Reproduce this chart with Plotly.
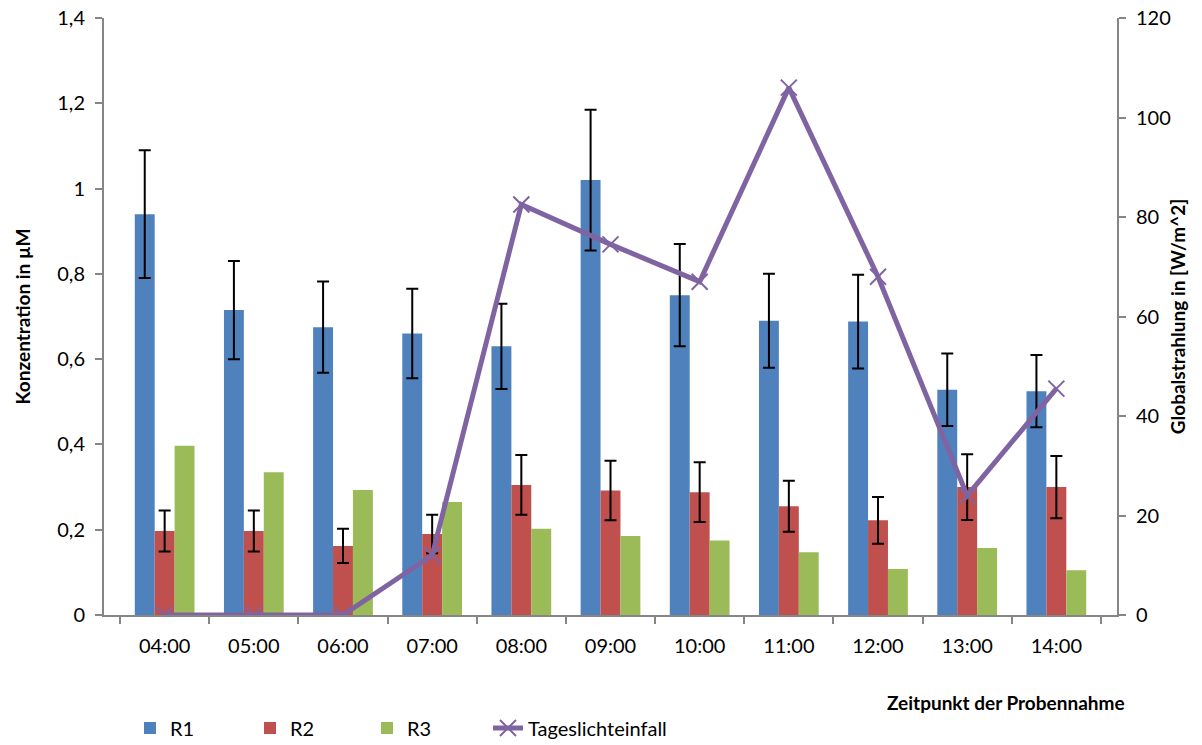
import plotly.graph_objects as go

categories = ["04:00", "05:00", "06:00", "07:00", "08:00", "09:00", "10:00", "11:00", "12:00", "13:00", "14:00"]
r1 = [0.94, 0.715, 0.675, 0.66, 0.63, 1.02, 0.75, 0.69, 0.688, 0.528, 0.525]
r1_err = [0.15, 0.115, 0.107, 0.105, 0.10, 0.165, 0.12, 0.11, 0.11, 0.085, 0.085]
r2 = [0.197, 0.197, 0.162, 0.19, 0.305, 0.292, 0.288, 0.255, 0.222, 0.30, 0.30]
r2_err = [0.048, 0.048, 0.04, 0.045, 0.07, 0.07, 0.07, 0.06, 0.055, 0.077, 0.073]
r3 = [0.397, 0.335, 0.293, 0.265, 0.202, 0.185, 0.175, 0.147, 0.108, 0.157, 0.105]
light = [0, 0, 0, 12, 82.5, 74.5, 67, 106, 68, 24, 45.5]

FONT = "Lato"
axis_col = "#868686"

err_style = dict(type="data", color="black", thickness=2, width=6)

fig = go.Figure()
fig.add_trace(go.Bar(name="R1", x=categories, y=r1, marker=dict(color="#4F81BD", line=dict(width=0)),
                     error_y=dict(array=r1_err, **err_style), legend="legend"))
fig.add_trace(go.Bar(name="R2", x=categories, y=r2, marker=dict(color="#C0504D", line=dict(width=0)),
                     error_y=dict(array=r2_err, **err_style), legend="legend2"))
fig.add_trace(go.Bar(name="R3", x=categories, y=r3, marker=dict(color="#9BBB59", line=dict(width=0)),
                     legend="legend3"))
fig.add_trace(go.Scatter(name="Tageslichteinfall", x=categories, y=light, yaxis="y2",
                         mode="lines+markers",
                         line=dict(color="#8064A2", width=5),
                         marker=dict(symbol="x-thin", size=16, line=dict(color="#8064A2", width=2)),
                         legend="legend4"))

W, H = 1202, 745

def leg(px):
    return dict(orientation="h", xref="container", x=px / W, xanchor="left",
                yref="container", y=1 - 728 / H, yanchor="middle", font=dict(size=20),
                bgcolor="rgba(0,0,0,0)")

fig.update_layout(
    width=W, height=H,
    paper_bgcolor="white", plot_bgcolor="white",
    margin=dict(l=104, r=85, t=18, b=130, autoexpand=False),
    barmode="group", bargap=0.33, bargroupgap=0,
    separators=", ",
    font=dict(family=FONT, size=20, color="black"),
    showlegend=True,
    legend=leg(130), legend2=leg(250), legend3=leg(367), legend4=leg(488),
    xaxis=dict(type="category", showline=True, linecolor=axis_col, linewidth=2,
               ticks="outside", tickson="boundaries", ticklen=7, tickcolor=axis_col, tickwidth=2,
               showgrid=False, tickfont=dict(size=20), automargin=False, ticklabelstandoff=12,
               ticklabeloverflow="allow"),
    yaxis=dict(range=[0, 1.4], dtick=0.2, showline=True, linecolor=axis_col, linewidth=2,
               ticks="outside", ticklen=7, tickcolor=axis_col, tickwidth=2, showgrid=False,
               zeroline=False, tickfont=dict(size=20), automargin=False, ticklabelstandoff=6,
               ticklabeloverflow="allow",
               title=dict(text="<b>Konzentration in µM</b>", font=dict(size=19), standoff=22)),
    yaxis2=dict(range=[0, 120], dtick=20, overlaying="y", side="right", showline=True,
                linecolor=axis_col, linewidth=2, ticks="outside", ticklen=7, tickcolor=axis_col,
                tickwidth=2, showgrid=False, zeroline=False, tickfont=dict(size=20), automargin=False,
                ticklabelstandoff=6, ticklabeloverflow="allow",
                title=dict(text="<b>Globalstrahlung in [W/m^2]</b>", font=dict(size=19), standoff=2)),
    annotations=[dict(text="<b>Zeitpunkt der Probennahme</b>", x=1.01, xref="paper", xanchor="right",
                      y=-0.147, yref="paper", yanchor="middle", showarrow=False, font=dict(size=19))],
)

fig.write_html("out.html", config={"displayModeBar": False},
               post_script="document.body.style.margin='0';")
